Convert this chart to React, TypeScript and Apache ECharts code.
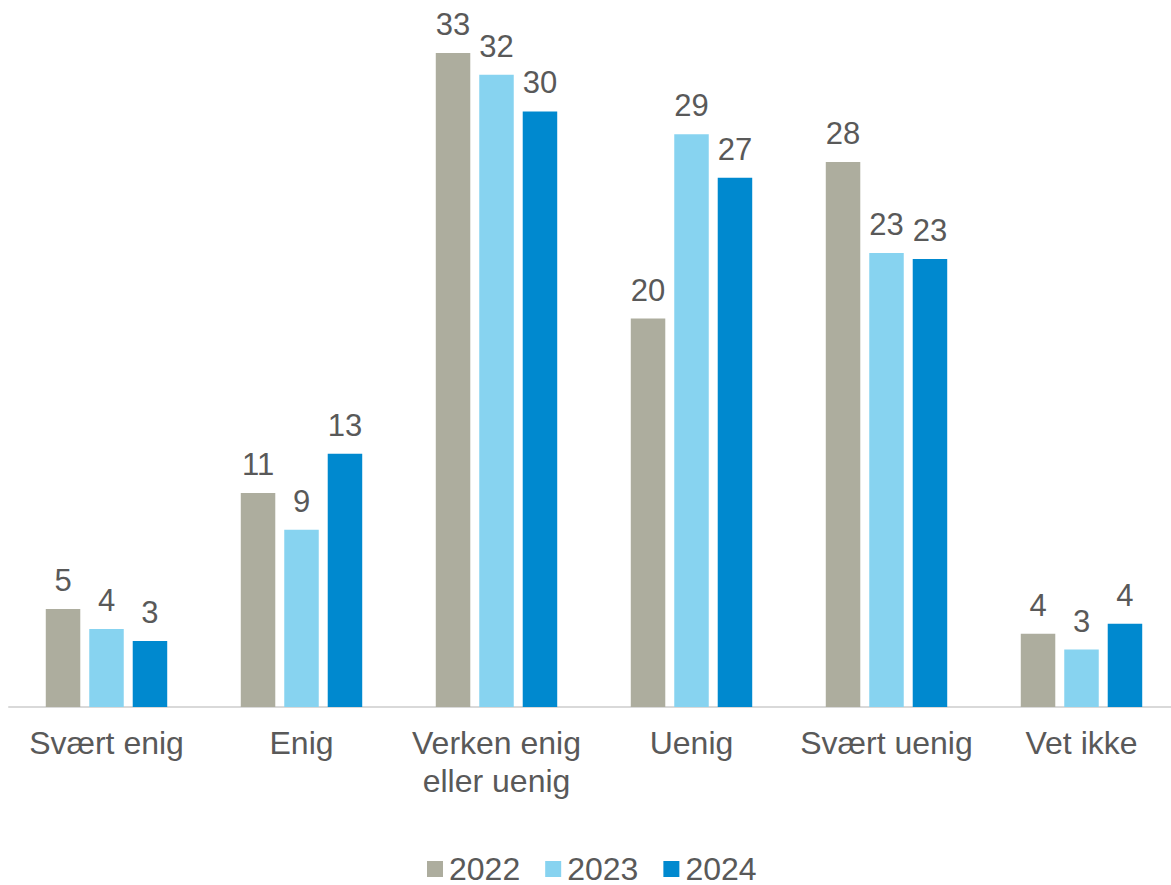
import React, { useEffect, useRef } from "react";
import * as echarts from "echarts";

const categories = ["Svært enig", "Enig", "Verken enig\neller uenig", "Uenig", "Svært uenig", "Vet ikke"];
const years = ["2022", "2023", "2024"];
const values2022 = [4.95, 10.8, 33.0, 19.6, 27.5, 3.7];
const values2023 = [3.94, 8.94, 31.9, 28.9, 22.9, 2.9];
const values2024 = [3.33, 12.78, 30.05, 26.7, 22.6, 4.2];
const colors = ["#ADAD9E", "#87D3F0", "#0089CF"];

const FONT = "Liberation Sans, Arial, sans-serif";
const TEXT = "#595959";

export default function App() {
  const ref = useRef<HTMLDivElement>(null);
  useEffect(() => {
    if (!ref.current) return;
    const chart = echarts.init(ref.current, null, { renderer: "svg" });
    const seriesData = [values2022, values2023, values2024];
    chart.setOption({
      animation: false,
      textStyle: { fontFamily: FONT },
      grid: { left: 9, width: 1170, top: 13.3, bottom: 178 },
      legend: {
        data: years,
        left: 427,
        top: 853,
        padding: 0,
        icon: "rect",
        itemWidth: 16,
        itemHeight: 16,
        itemGap: 25,
        textStyle: { fontSize: 32, color: TEXT, fontFamily: FONT, padding: [0, 0, 0, 1] },
      },
      xAxis: {
        type: "category",
        data: categories,
        axisLine: { lineStyle: { color: "#D9D9D9", width: 2 } },
        axisTick: { show: false },
        axisLabel: { fontSize: 32, color: TEXT, fontFamily: FONT, lineHeight: 38, margin: 17, interval: 0 },
      },
      yAxis: {
        type: "value",
        min: 0,
        max: 35,
        show: false,
        splitLine: { show: false },
      },
      series: years.map((y, i) => ({
        name: y,
        type: "bar",
        data: seriesData[i],
        barWidth: 34.5,
        barGap: "26%",
        itemStyle: { color: colors[i] },
        label: {
          show: true,
          position: "top",
          distance: 13,
          fontSize: 31,
          color: TEXT,
          fontFamily: FONT,
          formatter: (p: any) => String(Math.round(p.value)),
        },
      })),
    });
    return () => chart.dispose();
  }, []);
  return (
    <div style={{ position: "absolute", left: 0, top: 0, width: 1171, height: 885, overflow: "hidden" }}>
      <div ref={ref} style={{ width: 1200, height: 885 }} />
    </div>
  );
}
